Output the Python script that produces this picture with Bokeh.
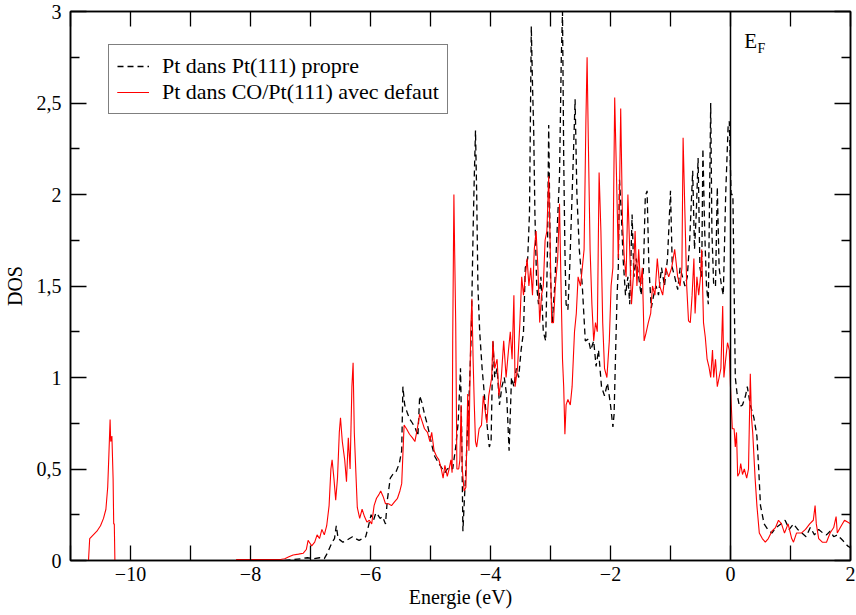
from bokeh.plotting import figure
from bokeh.models import (Span, Legend, LegendItem, LinearAxis, FixedTicker,
                          Label, Range1d)
from bokeh.embed import file_html
from bokeh.resources import INLINE

# ---------------- data ----------------
# Pt dans Pt(111) propre (black dashed)
propre_x = [-7.60, -7.45, -7.30, -7.15, -7.05, -6.95, -6.85, -6.77, -6.72, -6.68,
            -6.64, -6.60, -6.57, -6.54, -6.50, -6.46, -6.40, -6.35, -6.30, -6.25,
            -6.19, -6.13, -6.08, -6.04, -5.99, -5.95, -5.91, -5.88, -5.84, -5.80,
            -5.75, -5.72, -5.67, -5.63, -5.58, -5.52, -5.48, -5.46, -5.43, -5.38,
            -5.34, -5.30, -5.25, -5.21, -5.18, -5.14, -5.10, -5.05, -5.01, -4.97,
            -4.93, -4.88, -4.84, -4.80, -4.76, -4.72, -4.67, -4.63, -4.58, -4.54,
            -4.50, -4.48, -4.46, -4.44, -4.41, -4.38, -4.35, -4.32, -4.29, -4.27,
            -4.25, -4.23, -4.21, -4.18, -4.14, -4.10, -4.06, -4.02, -3.99, -3.96,
            -3.93, -3.89, -3.85, -3.81, -3.77, -3.73, -3.69, -3.65, -3.61, -3.57,
            -3.53, -3.49, -3.45, -3.42, -3.38, -3.35, -3.32, -3.30, -3.28, -3.26,
            -3.23, -3.20, -3.16, -3.12, -3.08, -3.05, -3.03, -3.00, -2.97, -2.93,
            -2.89, -2.85, -2.82, -2.80, -2.78, -2.76, -2.74, -2.71, -2.68, -2.65,
            -2.62, -2.59, -2.56, -2.52, -2.47, -2.42, -2.37, -2.33, -2.28, -2.24,
            -2.20, -2.15, -2.10, -2.05, -2.00, -1.96, -1.94, -1.91, -1.89, -1.87,
            -1.85, -1.82, -1.79, -1.75, -1.71, -1.68, -1.64, -1.61, -1.57, -1.53,
            -1.49, -1.45, -1.42, -1.39, -1.36, -1.32, -1.28, -1.24, -1.20, -1.15,
            -1.10, -1.05, -1.00, -0.97, -0.93, -0.88, -0.84, -0.80, -0.76, -0.72,
            -0.68, -0.63, -0.60, -0.57, -0.54, -0.51, -0.48, -0.46, -0.43, -0.40,
            -0.37, -0.33, -0.31, -0.28, -0.25, -0.22, -0.19, -0.15, -0.12, -0.08,
            -0.04, -0.02, 0.01, 0.04, 0.06, 0.08, 0.11, 0.15, 0.20, 0.25,
            0.28, 0.33, 0.39, 0.44, 0.47, 0.50, 0.56, 0.62, 0.69, 0.76,
            0.84, 0.91, 0.98, 1.05, 1.12, 1.19, 1.26, 1.33, 1.40, 1.47,
            1.54, 1.60, 1.66, 1.72, 1.78, 1.84, 1.90, 1.95, 2.00]
propre_y = [0.000, 0.000, 0.005, 0.010, 0.015, 0.010, 0.015, 0.010, 0.040, 0.070,
            0.100, 0.120, 0.190, 0.120, 0.110, 0.100, 0.110, 0.120, 0.130, 0.120,
            0.110, 0.120, 0.130, 0.180, 0.250, 0.220, 0.260, 0.250, 0.230, 0.240,
            0.200, 0.330, 0.450, 0.470, 0.480, 0.530, 0.600, 0.950, 0.850, 0.800,
            0.770, 0.750, 0.720, 0.680, 0.900, 0.860, 0.800, 0.740, 0.680, 0.620,
            0.570, 0.540, 0.520, 0.500, 0.480, 0.500, 0.510, 0.500, 0.620, 0.750,
            1.050, 0.700, 0.160, 0.300, 0.500, 0.750, 0.950, 1.250, 1.800, 2.100,
            2.350, 2.000, 1.500, 1.250, 1.050, 0.900, 0.750, 0.620, 0.650, 1.200,
            1.000, 1.050, 0.850, 0.950, 1.000, 0.900, 0.600, 1.000, 0.950, 1.050,
            1.000, 1.150, 1.250, 1.600, 1.650, 1.900, 2.920, 2.600, 2.350, 1.900,
            1.500, 1.400, 1.550, 1.250, 1.200, 1.700, 2.380, 1.550, 1.300, 1.500,
            1.800, 2.100, 2.750, 3.000, 2.200, 1.700, 1.400, 1.370, 1.600, 1.900,
            2.200, 2.520, 2.000, 1.700, 1.500, 1.200, 1.210, 1.150, 1.200, 1.060,
            1.150, 0.950, 0.900, 0.970, 0.850, 0.730, 0.800, 1.200, 1.450, 1.600,
            2.080, 1.900, 1.650, 1.450, 1.550, 1.400, 1.890, 1.550, 1.650, 1.550,
            1.450, 1.600, 1.990, 2.020, 1.600, 1.380, 1.450, 1.500, 1.450, 1.600,
            1.500, 1.650, 2.020, 1.600, 1.550, 1.480, 1.600, 1.550, 1.500, 1.550,
            1.750, 2.130, 1.700, 1.900, 2.200, 1.600, 1.550, 2.250, 1.800, 1.500,
            1.400, 2.500, 1.800, 1.500, 1.500, 2.040, 1.600, 1.500, 1.450, 2.000,
            2.370, 2.400, 2.000, 2.000, 1.500, 1.000, 0.910, 0.840, 0.850, 0.900,
            0.950, 0.850, 0.780, 0.680, 0.500, 0.300, 0.200, 0.170, 0.150, 0.180,
            0.200, 0.220, 0.170, 0.200, 0.170, 0.150, 0.130, 0.180, 0.140, 0.170,
            0.150, 0.140, 0.160, 0.130, 0.140, 0.120, 0.100, 0.080, 0.070]

# Pt dans CO/Pt(111) avec defaut (red) : low-energy CO-induced peak
defaut_peak_x = [-10.70, -10.68, -10.62, -10.56, -10.50, -10.45, -10.41, -10.38,
                 -10.36, -10.34, -10.33, -10.31, -10.29, -10.28, -10.27, -10.26]
defaut_peak_y = [0.00, 0.12, 0.14, 0.16, 0.19, 0.23, 0.28, 0.40,
                 0.58, 0.77, 0.65, 0.68, 0.45, 0.20, 0.20, 0.00]

# Pt dans CO/Pt(111) avec defaut (red) : d band
defaut_x = [-8.24, -7.50, -7.43, -7.36, -7.29, -7.20, -7.12, -7.07, -7.04, -7.02,
            -6.98, -6.93, -6.89, -6.85, -6.81, -6.77, -6.73, -6.69, -6.66, -6.64,
            -6.61, -6.58, -6.55, -6.52, -6.50, -6.47, -6.43, -6.40, -6.37, -6.34,
            -6.31, -6.29, -6.27, -6.24, -6.22, -6.18, -6.14, -6.10, -6.06, -6.02,
            -5.98, -5.94, -5.90, -5.86, -5.83, -5.79, -5.75, -5.70, -5.65, -5.60,
            -5.55, -5.51, -5.48, -5.46, -5.44, -5.40, -5.35, -5.30, -5.26, -5.22,
            -5.18, -5.14, -5.10, -5.05, -5.01, -4.98, -4.94, -4.90, -4.86, -4.82,
            -4.79, -4.76, -4.72, -4.69, -4.66, -4.64, -4.63, -4.61, -4.60, -4.58,
            -4.56, -4.53, -4.51, -4.49, -4.47, -4.44, -4.41, -4.38, -4.36, -4.33,
            -4.31, -4.29, -4.27, -4.25, -4.23, -4.19, -4.15, -4.12, -4.09, -4.06,
            -4.03, -3.98, -3.96, -3.93, -3.89, -3.86, -3.82, -3.78, -3.74, -3.70,
            -3.67, -3.64, -3.61, -3.59, -3.55, -3.51, -3.48, -3.45, -3.42, -3.39,
            -3.36, -3.33, -3.30, -3.27, -3.24, -3.21, -3.18, -3.15, -3.12, -3.09,
            -3.06, -3.03, -3.01, -2.98, -2.95, -2.92, -2.88, -2.85, -2.83, -2.80,
            -2.78, -2.76, -2.74, -2.71, -2.67, -2.64, -2.60, -2.57, -2.54, -2.50,
            -2.47, -2.44, -2.41, -2.39, -2.37, -2.34, -2.31, -2.28, -2.25, -2.22,
            -2.19, -2.16, -2.13, -2.10, -2.06, -2.02, -1.99, -1.96, -1.93, -1.90,
            -1.87, -1.85, -1.83, -1.80, -1.77, -1.74, -1.71, -1.68, -1.65, -1.62,
            -1.59, -1.56, -1.53, -1.50, -1.47, -1.44, -1.41, -1.37, -1.33, -1.30,
            -1.26, -1.22, -1.18, -1.13, -1.08, -1.03, -0.98, -0.93, -0.88, -0.84,
            -0.81, -0.79, -0.76, -0.73, -0.70, -0.67, -0.64, -0.61, -0.59, -0.56,
            -0.53, -0.50, -0.48, -0.45, -0.42, -0.39, -0.36, -0.33, -0.30, -0.28,
            -0.25, -0.22, -0.19, -0.16, -0.13, -0.11, -0.08, -0.05, -0.02, 0.00,
            0.03, 0.06, 0.08, 0.10, 0.12, 0.15, 0.17, 0.20, 0.23, 0.27,
            0.30, 0.33, 0.35, 0.37, 0.41, 0.44, 0.48, 0.53, 0.58, 0.63,
            0.69, 0.75, 0.80, 0.85, 0.90, 0.96, 1.02, 1.05, 1.10, 1.18,
            1.25, 1.32, 1.38, 1.41, 1.43, 1.47, 1.53, 1.60, 1.66, 1.72,
            1.76, 1.78, 1.83, 1.90, 1.95, 2.00]
defaut_y = [0.005, 0.005, 0.010, 0.020, 0.030, 0.035, 0.040, 0.060, 0.110, 0.100,
            0.080, 0.100, 0.140, 0.120, 0.170, 0.140, 0.190, 0.300, 0.500, 0.550,
            0.450, 0.330, 0.450, 0.700, 0.780, 0.650, 0.550, 0.430, 0.670, 0.500,
            0.950, 1.080, 0.700, 0.450, 0.290, 0.230, 0.280, 0.240, 0.210, 0.220,
            0.200, 0.300, 0.340, 0.360, 0.380, 0.350, 0.310, 0.310, 0.300, 0.320,
            0.340, 0.380, 0.420, 0.580, 0.740, 0.720, 0.690, 0.670, 0.650, 0.720,
            0.800, 0.760, 0.720, 0.700, 0.650, 0.700, 0.600, 0.570, 0.550, 0.500,
            0.450, 0.520, 0.460, 0.500, 0.550, 0.480, 1.200, 2.000, 1.750, 1.300,
            0.500, 0.500, 0.550, 0.850, 0.500, 0.380, 0.400, 0.910, 0.600, 1.250,
            1.430, 1.100, 0.850, 0.650, 0.620, 0.720, 0.740, 0.900, 0.820, 0.750,
            0.900, 1.000, 1.200, 1.050, 1.100, 0.900, 1.000, 1.200, 1.000, 1.150,
            1.250, 1.100, 1.450, 0.950, 1.050, 1.300, 1.550, 1.450, 1.550, 1.650,
            1.500, 1.600, 1.450, 1.700, 1.800, 1.600, 1.300, 1.450, 1.500, 1.750,
            1.800, 2.100, 1.800, 1.300, 1.300, 1.500, 1.650, 1.950, 1.600, 1.100,
            0.950, 0.690, 0.850, 0.880, 0.850, 0.950, 1.250, 1.350, 1.550, 1.500,
            1.600, 1.700, 2.400, 2.750, 2.300, 1.700, 1.400, 1.200, 1.300, 1.250,
            2.120, 1.800, 1.300, 1.050, 1.000, 1.200, 1.500, 1.600, 2.530, 2.100,
            1.650, 2.000, 2.470, 1.850, 1.650, 1.550, 2.000, 1.700, 1.400, 1.550,
            1.800, 1.500, 1.700, 1.500, 1.600, 1.200, 1.240, 1.300, 1.350, 1.500,
            1.450, 1.650, 1.500, 1.450, 1.600, 1.550, 1.600, 1.700, 1.550, 1.500,
            1.600, 2.310, 1.900, 1.500, 1.310, 1.300, 1.450, 1.650, 1.350, 1.550,
            1.450, 1.550, 1.700, 1.300, 1.220, 1.100, 1.060, 1.000, 1.150, 1.000,
            1.100, 0.950, 1.000, 1.050, 1.390, 1.000, 1.100, 1.190, 1.150, 0.950,
            0.720, 0.720, 0.620, 0.700, 0.460, 0.480, 0.530, 0.470, 0.500, 0.450,
            0.500, 1.020, 0.780, 0.700, 0.450, 0.300, 0.150, 0.120, 0.100, 0.120,
            0.160, 0.180, 0.220, 0.200, 0.150, 0.200, 0.120, 0.100, 0.150, 0.150,
            0.170, 0.200, 0.220, 0.300, 0.200, 0.120, 0.100, 0.100, 0.150, 0.180,
            0.240, 0.150, 0.180, 0.220, 0.210, 0.200]

x_ticks = [-10, -8, -6, -4, -2, 0, 2]
x_minor = [-11, -9, -7, -5, -3, -1, 1]
y_ticks = [0, 0.5, 1, 1.5, 2, 2.5, 3]
y_minor = [0.25, 0.75, 1.25, 1.75, 2.25, 2.75]
y_labels = {0.5: "0,5", 1.5: "1,5", 2.5: "2,5"}

label_propre = "Pt dans Pt(111) propre"
label_defaut = "Pt dans CO/Pt(111) avec defaut"

FONT = "Liberation Serif"

# ---------------- figure ----------------
p = figure(width=856, height=615, output_backend="svg", toolbar_location=None,
           x_range=Range1d(-11, 2), y_range=Range1d(0, 3),
           min_border_left=69, min_border_right=6, min_border_top=11,
           min_border_bottom=55)
p.xgrid.visible = False
p.ygrid.visible = False
p.outline_line_color = "black"
p.outline_line_width = 1.5
p.background_fill_color = "white"
p.border_fill_color = "white"

rb = p.line(propre_x, propre_y, line_color="black", line_width=1.3,
            line_dash="6 4")
rr1 = p.line(defaut_peak_x, defaut_peak_y, line_color="#ff0000", line_width=1.1)
rr2 = p.line(defaut_x, defaut_y, line_color="#ff0000", line_width=1.1)

p.add_layout(Span(location=0, dimension="height", line_color="black",
                  line_width=1.5))


def style_axis(ax, ticks, minor, tick_len, minor_len):
    ax.ticker = FixedTicker(ticks=ticks, minor_ticks=minor)
    ax.major_tick_in = tick_len
    ax.major_tick_out = 0
    ax.minor_tick_in = minor_len
    ax.minor_tick_out = 0
    ax.major_tick_line_color = "black"
    ax.minor_tick_line_color = "black"
    ax.major_tick_line_width = 1.3
    ax.minor_tick_line_width = 1.3
    ax.axis_line_color = "black"
    ax.axis_line_width = 1.5
    ax.major_label_text_font = FONT
    ax.major_label_text_font_size = "20px"
    ax.major_label_text_color = "black"
    ax.axis_label_text_font = FONT
    ax.axis_label_text_font_size = "20px"
    ax.axis_label_text_font_style = "normal"
    ax.axis_label_text_color = "black"


xa = p.xaxis[0]
style_axis(xa, x_ticks, x_minor, 15, 15)
xa.axis_label = "Energie (eV)"
xa.major_label_standoff = 6
xa.axis_label_standoff = 2

ya = p.yaxis[0]
style_axis(ya, y_ticks, y_minor, 16, 9)
ya.axis_label = "DOS"
ya.major_label_overrides = y_labels
ya.major_label_standoff = 9
ya.axis_label_standoff = 8

# mirrored tick marks on top and right (no labels)
top = LinearAxis()
style_axis(top, x_ticks, x_minor, 15, 15)
top.major_label_text_font_size = "1px"
top.major_label_standoff = 0
top.major_label_overrides = {t: "" for t in x_ticks}
p.add_layout(top, "above")
right = LinearAxis()
style_axis(right, y_ticks, y_minor, 16, 9)
right.major_label_text_font_size = "1px"
right.major_label_standoff = 0
right.major_label_overrides = {t: "" for t in y_ticks}
p.add_layout(right, "right")

# Fermi level label E_F
p.add_layout(Label(x=0.23, y=2.84, text="E", text_font=FONT,
                   text_font_size="21px", text_color="black",
                   text_baseline="alphabetic"))
p.add_layout(Label(x=0.45, y=2.797, text="F", text_font=FONT,
                   text_font_size="14px", text_color="black",
                   text_baseline="alphabetic"))

legend = Legend(items=[LegendItem(label=label_propre, renderers=[rb]),
                       LegendItem(label=label_defaut, renderers=[rr1, rr2])],
                location=(38, 446))
legend.border_line_color = "black"
legend.border_line_width = 1.5
legend.background_fill_color = "white"
legend.background_fill_alpha = 1.0
legend.label_text_font = FONT
legend.label_text_font_size = "22px"
legend.label_text_color = "black"
legend.glyph_width = 32
legend.glyph_height = 24
legend.label_height = 24
legend.label_standoff = 13
legend.padding = 8
legend.spacing = 0
legend.margin = 0
p.add_layout(legend)

open("out.html", "w").write(file_html(p, INLINE))
